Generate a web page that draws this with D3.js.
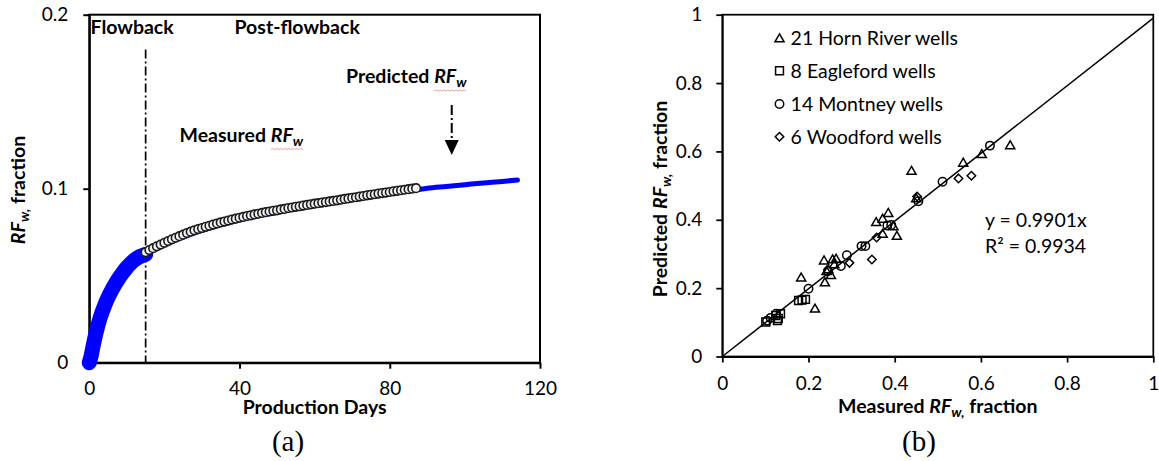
<!DOCTYPE html>
<html>
<head>
<meta charset="utf-8">
<script src="https://cdn.jsdelivr.net/npm/d3@7"></script>
<style>
  body { margin: 0; background: #fff; }
  svg text { font-family: Lato, "Open Sans", sans-serif; fill: #000; }
</style>
</head>
<body>
<svg id="chart" width="1159" height="461"></svg>
<script>
// ---------- Panel (a): water recovery factor vs production time ----------
const xTicksA = [0, 40, 80, 120];
const yTicksA = [0, 0.1, 0.2];

// predicted RFw during flowback (thick band)
const flowbackDay = [0, 0.5, 1, 2, 3, 4, 5, 6, 7, 8, 9, 10, 11, 12, 13, 14, 15];
const flowbackRF  = [0, 0.004, 0.0095, 0.019, 0.0265, 0.0325, 0.0375, 0.0418, 0.0456,
                     0.049, 0.052, 0.0547, 0.057, 0.059, 0.0605, 0.0615, 0.0622];

// predicted RFw after flowback
const predictedDay = [15, 20, 25, 30, 35, 40, 45, 50, 55, 60, 65, 70, 75, 80, 85, 90, 95, 100, 105, 110, 114];
const predictedRF  = [0.0622, 0.0678, 0.0722, 0.0760, 0.0792, 0.0820, 0.0844, 0.0864, 0.0884, 0.0902,
                      0.0919, 0.0936, 0.0954, 0.0971, 0.0988, 0.1003, 0.1013, 0.1023, 0.1033, 0.1042, 0.1050];

// measured RFw, one reading per day
const measuredDay = [15, 16, 17, 18, 19, 20, 21, 22, 23, 24, 25, 26, 27, 28, 29, 30, 31, 32, 33, 34,
                     35, 36, 37, 38, 39, 40, 41, 42, 43, 44, 45, 46, 47, 48, 49, 50, 51, 52, 53, 54,
                     55, 56, 57, 58, 59, 60, 61, 62, 63, 64, 65, 66, 67, 68, 69, 70, 71, 72, 73, 74,
                     75, 76, 77, 78, 79, 80, 81, 82, 83, 84, 85, 86, 87];
const measuredRF  = [0.0635, 0.0647, 0.0658, 0.0669, 0.0679, 0.0689, 0.0699, 0.0709, 0.0718, 0.0727,
                     0.0736, 0.0745, 0.0753, 0.0761, 0.0768, 0.0774, 0.0781, 0.0787, 0.0794, 0.0800,
                     0.0806, 0.0811, 0.0817, 0.0823, 0.0828, 0.0833, 0.0838, 0.0843, 0.0847, 0.0852,
                     0.0856, 0.0861, 0.0865, 0.0869, 0.0873, 0.0876, 0.0881, 0.0884, 0.0889, 0.0892,
                     0.0896, 0.0899, 0.0903, 0.0907, 0.0910, 0.0914, 0.0917, 0.0920, 0.0923, 0.0927,
                     0.0930, 0.0933, 0.0937, 0.0941, 0.0944, 0.0948, 0.0951, 0.0955, 0.0958, 0.0962,
                     0.0965, 0.0968, 0.0972, 0.0975, 0.0978, 0.0981, 0.0985, 0.0988, 0.0991, 0.0994,
                     0.0997, 0.1000, 0.1003];

const flowbackEndDay = 15;
const arrowDay = 96.5;

// ---------- Panel (b): predicted vs measured RFw ----------
const ticksB = [0, 0.2, 0.4, 0.6, 0.8, 1];
const trendSlope = 0.9901;
const trendR2 = 0.9934;

const hornRiverMeasured = [0.668, 0.602, 0.559, 0.439, 0.385, 0.372, 0.357, 0.397, 0.405, 0.372, 0.450,
                           0.264, 0.256, 0.236, 0.246, 0.252, 0.238, 0.183, 0.215, 0.260, 0.242];
const hornRiverPredicted = [0.618, 0.592, 0.567, 0.543, 0.420, 0.403, 0.393, 0.381, 0.353, 0.359, 0.463,
                            0.286, 0.284, 0.281, 0.255, 0.238, 0.217, 0.231, 0.140, 0.270, 0.250];

const eaglefordMeasured = [0.101, 0.124, 0.130, 0.135, 0.128, 0.177, 0.185, 0.193];
const eaglefordPredicted = [0.101, 0.120, 0.111, 0.125, 0.105, 0.164, 0.165, 0.167];

const montneyMeasured = [0.104, 0.112, 0.125, 0.200, 0.245, 0.275, 0.289, 0.323, 0.332, 0.383, 0.392, 0.455, 0.511, 0.621];
const montneyPredicted = [0.105, 0.113, 0.125, 0.198, 0.250, 0.265, 0.296, 0.323, 0.323, 0.383, 0.385, 0.454, 0.511, 0.617];

const woodfordMeasured = [0.578, 0.548, 0.452, 0.358, 0.347, 0.295];
const woodfordPredicted = [0.529, 0.521, 0.468, 0.348, 0.284, 0.274];

const legendLabels = ["21 Horn River wells", "8 Eagleford wells", "14 Montney wells", "6 Woodford wells"];

// ---------- drawing ----------
const svg = d3.select("#chart");
const FONT = 'Lato, "Open Sans", sans-serif';

function styleAxis(g, width) {
  g.attr("font-family", FONT).attr("font-size", 19);
  g.select(".domain").attr("stroke", "#000").attr("stroke-width", width);
  g.selectAll(".tick line").attr("stroke", "#000").attr("stroke-width", width);
  g.selectAll(".tick text").attr("fill", "#000");
}

// wavy proofing underline below a run of text
function squiggle(g, x0, x1, y) {
  let d = `M${x0},${y}`;
  let up = true;
  for (let x = x0 + 2; x <= x1; x += 2) { d += `L${x},${y + (up ? -1 : 0)}`; up = !up; }
  g.append("path").attr("d", d).attr("fill", "none")
    .attr("stroke", "#f2a0a0").attr("stroke-width", 1);
}

// mixed-style label: plain text, italic RF, subscript w, trailing text
function rfLabel(sel, before, after, subDy) {
  if (before) sel.append("tspan").text(before);
  sel.append("tspan").attr("font-style", "italic").text("RF");
  sel.append("tspan").attr("font-style", "italic").attr("font-size", "0.72em").attr("dy", subDy).text("w");
  if (after !== null) sel.append("tspan").attr("dy", -subDy).text(after);
}

// ===== Panel (a) =====
const xa = d3.scaleLinear().domain([0, 120]).range([89.3, 540]);
const ya = d3.scaleLinear().domain([0, 0.2]).range([362.7, 14.7]);
const ga = svg.append("g");

ga.append("rect")
  .attr("x", xa(0)).attr("y", ya(0.2))
  .attr("width", xa(120) - xa(0)).attr("height", ya(0) - ya(0.2))
  .attr("fill", "none").attr("stroke", "#000").attr("stroke-width", 2);

ga.append("g").attr("transform", `translate(0,${ya(0)})`)
  .call(d3.axisBottom(xa).tickValues(xTicksA).tickSize(6).tickSizeOuter(0).tickPadding(13).tickFormat(d3.format("d")))
  .call(g => styleAxis(g, 2));

ga.append("g").attr("transform", `translate(${xa(0)},0)`)
  .call(d3.axisLeft(ya).tickValues(yTicksA).tickSize(6).tickSizeOuter(0).tickPadding(15).tickFormat(d => d === 0 ? "0" : d3.format(".1f")(d)))
  .call(g => styleAxis(g, 2));

// flowback / post-flowback divider
ga.append("line")
  .attr("x1", xa(flowbackEndDay)).attr("x2", xa(flowbackEndDay))
  .attr("y1", ya(0.18)).attr("y2", ya(0))
  .attr("stroke", "#000").attr("stroke-width", 1.7).attr("stroke-dasharray", "9,3,2,3");

const lineA = d3.line().x(d => xa(d[0])).y(d => ya(d[1])).curve(d3.curveMonotoneX);

ga.append("path")
  .datum(flowbackDay.map((d, i) => [d, flowbackRF[i]]))
  .attr("d", lineA).attr("fill", "none")
  .attr("stroke", "#0000ff").attr("stroke-width", 15)
  .attr("stroke-linejoin", "round").attr("stroke-linecap", "round");

ga.append("path")
  .datum(predictedDay.map((d, i) => [d, predictedRF[i]]))
  .attr("d", lineA).attr("fill", "none")
  .attr("stroke", "#0000ff").attr("stroke-width", 5)
  .attr("stroke-linejoin", "round").attr("stroke-linecap", "round");

ga.append("g").selectAll("circle")
  .data(measuredDay.map((d, i) => [d, measuredRF[i]]))
  .join("circle")
  .attr("cx", d => xa(d[0])).attr("cy", d => ya(d[1])).attr("r", 4.3)
  .attr("fill", "#f2f2f2").attr("stroke", "#1a1a1a").attr("stroke-width", 1.6);

// annotations
const boldA = ga.append("g").attr("font-weight", "bold").attr("font-size", 19.5);
boldA.append("text").attr("x", 90.5).attr("y", 34).text("Flowback");
boldA.append("text").attr("x", 234.5).attr("y", 34).text("Post-flowback");

const measText = boldA.append("text").attr("x", 179.5).attr("y", 141.5);
rfLabel(measText, "Measured ", null, 4);
const predText = boldA.append("text").attr("x", 346).attr("y", 83);
rfLabel(predText, "Predicted ", null, 4);

[[measText, 9, 141.5], [predText, 10, 83]].forEach(([t, start, base]) => {
  const node = t.node();
  const x0 = (+t.attr("x")) + node.getSubStringLength(0, start);
  const x1 = (+t.attr("x")) + node.getComputedTextLength();
  squiggle(ga, x0, x1, base + 8);
});

// arrow pointing at the forecast section
ga.append("line")
  .attr("x1", xa(arrowDay)).attr("x2", xa(arrowDay))
  .attr("y1", 105).attr("y2", 140)
  .attr("stroke", "#000").attr("stroke-width", 2).attr("stroke-dasharray", "10,3,2,3");
ga.append("path")
  .attr("d", `M${xa(arrowDay) - 7},140 L${xa(arrowDay) + 7},140 L${xa(arrowDay)},155 Z`)
  .attr("fill", "#000");

// axis titles
const yTitleA = ga.append("text").attr("transform", "translate(25,190) rotate(-90)")
  .attr("text-anchor", "middle").attr("font-weight", "bold").attr("font-size", 19.5);
rfLabel(yTitleA, null, " fraction", 4);
yTitleA.selectAll("tspan").filter((d, i) => i === 1).text("w,");

ga.append("text").attr("x", (xa(0) + xa(120)) / 2).attr("y", 414)
  .attr("text-anchor", "middle").attr("font-weight", "bold").attr("font-size", 19.5)
  .text("Production Days");

ga.append("text").attr("x", 288).attr("y", 451).attr("text-anchor", "middle")
  .style("font-family", '"Liberation Serif", "DejaVu Serif", serif').attr("font-size", 29)
  .text("(a)");

// ===== Panel (b) =====
const xb = d3.scaleLinear().domain([0, 1]).range([722.3, 1153.3]);
const yb = d3.scaleLinear().domain([0, 1]).range([356.5, 14.7]);
const gb = svg.append("g");

gb.append("rect")
  .attr("x", xb(0)).attr("y", yb(1))
  .attr("width", xb(1) - xb(0)).attr("height", yb(0) - yb(1))
  .attr("fill", "none").attr("stroke", "#000").attr("stroke-width", 1.75);

const fmtB = d => (d === 0 || d === 1) ? String(d) : d3.format(".1f")(d);
gb.append("g").attr("transform", `translate(0,${yb(0)})`)
  .call(d3.axisBottom(xb).tickValues(ticksB).tickSize(6).tickSizeOuter(0).tickPadding(14).tickFormat(fmtB))
  .call(g => styleAxis(g, 1.75));
gb.append("g").attr("transform", `translate(${xb(0)},0)`)
  .call(d3.axisLeft(yb).tickValues(ticksB).tickSize(6).tickSizeOuter(0).tickPadding(14).tickFormat(fmtB))
  .call(g => styleAxis(g, 1.75));

// fitted line through the origin
gb.append("path")
  .datum([0, 1])
  .attr("d", d3.line().x(d => xb(d)).y(d => yb(trendSlope * d)))
  .attr("fill", "none").attr("stroke", "#000").attr("stroke-width", 1.5);

const diamond = {
  draw(ctx, size) {
    const r = Math.sqrt(size / 2);
    ctx.moveTo(0, -r); ctx.lineTo(r, 0); ctx.lineTo(0, r); ctx.lineTo(-r, 0); ctx.closePath();
  }
};
const groups = [
  { mx: hornRiverMeasured, py: hornRiverPredicted, sym: d3.symbolTriangle, size: 36, dy: 0.8 },
  { mx: eaglefordMeasured, py: eaglefordPredicted, sym: d3.symbolSquare, size: 62, dy: 0 },
  { mx: montneyMeasured, py: montneyPredicted, sym: d3.symbolCircle, size: 56, dy: 0 },
  { mx: woodfordMeasured, py: woodfordPredicted, sym: diamond, size: 36, dy: 0 }
];

groups.forEach(gr => {
  const path = d3.symbol().type(gr.sym).size(gr.size)();
  gb.append("g").selectAll("path")
    .data(gr.mx.map((m, i) => [m, gr.py[i]]))
    .join("path")
    .attr("d", path)
    .attr("transform", d => `translate(${xb(d[0])},${yb(d[1]) + gr.dy})`)
    .attr("fill", "none").attr("stroke", "#000").attr("stroke-width", 1.5);
});

// legend
const legRowY = [38.4, 70.7, 104, 136.7];
const leg = gb.append("g");
groups.forEach((gr, i) => {
  leg.append("path").attr("d", d3.symbol().type(gr.sym).size(gr.size)())
    .attr("transform", `translate(779.5,${legRowY[i] + gr.dy})`)
    .attr("fill", "none").attr("stroke", "#000").attr("stroke-width", 1.5);
  leg.append("text").attr("x", 790.6).attr("y", legRowY[i] + 6.8)
    .attr("font-size", 19.5).text(legendLabels[i]);
});

// fit statistics
gb.append("text").attr("x", 985).attr("y", 226.5).attr("font-size", 19.5)
  .text(`y = ${trendSlope}x`);
gb.append("text").attr("x", 985).attr("y", 253).attr("font-size", 19.5)
  .text(`R² = ${trendR2}`);

// axis titles
const yTitleB = gb.append("text").attr("transform", "translate(667,199) rotate(-90)")
  .attr("text-anchor", "middle").attr("font-weight", "bold").attr("font-size", 19.5);
rfLabel(yTitleB, "Predicted ", " fraction", 4);
yTitleB.selectAll("tspan").filter((d, i) => i === 2).text("w,");

const xTitleB = gb.append("text").attr("x", (xb(0) + xb(1)) / 2).attr("y", 413)
  .attr("text-anchor", "middle").attr("font-weight", "bold").attr("font-size", 19.5);
rfLabel(xTitleB, "Measured ", " fraction", 4);
xTitleB.selectAll("tspan").filter((d, i) => i === 2).text("w,");

gb.append("text").attr("x", 919).attr("y", 451).attr("text-anchor", "middle")
  .style("font-family", '"Liberation Serif", "DejaVu Serif", serif').attr("font-size", 29)
  .text("(b)");
</script>
</body>
</html>
